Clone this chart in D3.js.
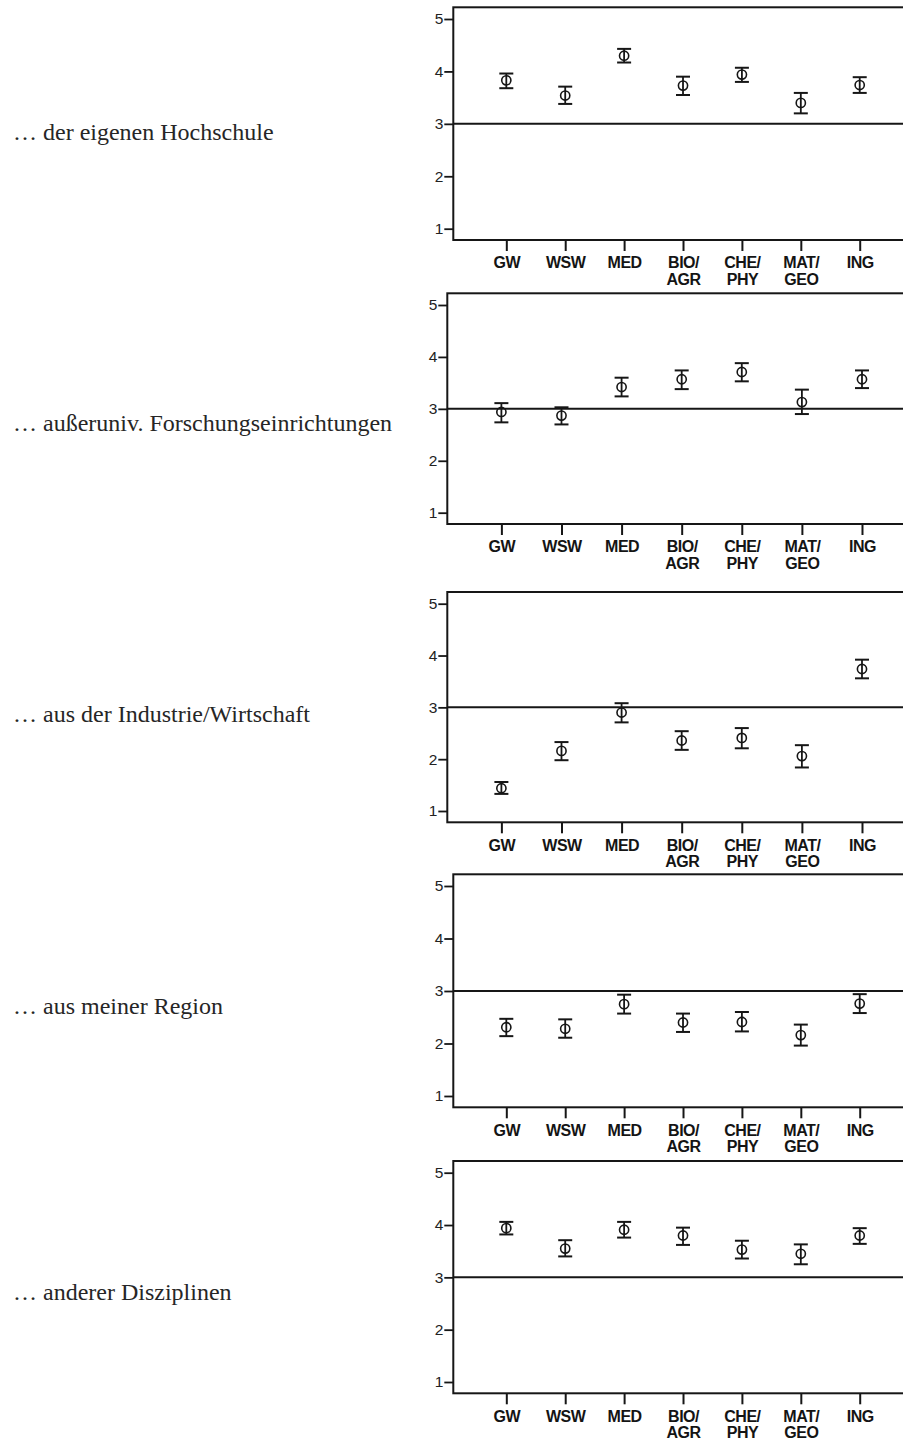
<!DOCTYPE html>
<html>
<head>
<meta charset="utf-8">
<script src="https://cdnjs.cloudflare.com/ajax/libs/d3/7.8.5/d3.min.js"></script>
<style>
  html, body { margin: 0; padding: 0; background: #ffffff; }
  svg { display: block; }
</style>
</head>
<body>
<svg id="chart" width="903" height="1438"></svg>
<script>
// ---- data ----
const categories = ["GW", "WSW", "MED", "BIO/AGR", "CHE/PHY", "MAT/GEO", "ING"];
const categoryLines = [["GW"], ["WSW"], ["MED"], ["BIO/", "AGR"], ["CHE/", "PHY"], ["MAT/", "GEO"], ["ING"]];
const yTicks = [1, 2, 3, 4, 5];
const referenceValue = 3;

const rowLabels = [
  "… der eigenen Hochschule",
  "… außeruniv. Forschungseinrichtungen",
  "… aus der Industrie/Wirtschaft",
  "… aus meiner Region",
  "… anderer Disziplinen"
];

const hochschuleMean = [3.83, 3.54, 4.30, 3.73, 3.94, 3.40, 3.74];
const hochschuleLow  = [3.68, 3.38, 4.17, 3.55, 3.80, 3.20, 3.59];
const hochschuleHigh = [3.96, 3.71, 4.43, 3.90, 4.07, 3.59, 3.89];

const forschungMean = [2.94, 2.87, 3.42, 3.57, 3.71, 3.13, 3.57];
const forschungLow  = [2.74, 2.70, 3.24, 3.38, 3.53, 2.90, 3.40];
const forschungHigh = [3.11, 3.03, 3.60, 3.74, 3.88, 3.37, 3.74];

const industrieMean = [1.44, 2.16, 2.90, 2.36, 2.41, 2.06, 3.74];
const industrieLow  = [1.33, 1.98, 2.71, 2.18, 2.21, 1.84, 3.56];
const industrieHigh = [1.56, 2.33, 3.08, 2.54, 2.60, 2.27, 3.92];

const regionMean = [2.31, 2.28, 2.75, 2.40, 2.41, 2.16, 2.76];
const regionLow  = [2.14, 2.11, 2.57, 2.22, 2.23, 1.96, 2.58];
const regionHigh = [2.47, 2.46, 2.93, 2.57, 2.60, 2.36, 2.94];

const disziplinenMean = [3.94, 3.55, 3.91, 3.80, 3.53, 3.45, 3.80];
const disziplinenLow  = [3.82, 3.40, 3.76, 3.62, 3.36, 3.25, 3.64];
const disziplinenHigh = [4.06, 3.71, 4.06, 3.95, 3.70, 3.63, 3.94];

const seriesMeans = [hochschuleMean, forschungMean, industrieMean, regionMean, disziplinenMean];
const seriesLows  = [hochschuleLow, forschungLow, industrieLow, regionLow, disziplinenLow];
const seriesHighs = [hochschuleHigh, forschungHigh, industrieHigh, regionHigh, disziplinenHigh];

// ---- layout (pixels) ----
const panelLayout = [
  { top: 7.3,   bottom: 240,    left: 453.3, step: 58.9, labelY: 140 },
  { top: 293.3, bottom: 524,    left: 447.3, step: 60.1, labelY: 430.7 },
  { top: 592,   bottom: 822.3,  left: 447.3, step: 60.1, labelY: 721.7 },
  { top: 874.3, bottom: 1107.3, left: 453.3, step: 58.9, labelY: 1014 },
  { top: 1161,  bottom: 1393.3, left: 453.3, step: 58.9, labelY: 1300 }
];
const labelX = 13;
const ink = "#161616";

const svg = d3.select("#chart");

panelLayout.forEach((L, i) => {
  const right = L.left + 7.8 * L.step;
  const x = d3.scalePoint().domain(categories).range([L.left, right]).padding(0.9);
  const y = d3.scaleLinear().domain([1, 5]).range([L.bottom - 11.3, L.top + 11.7]);

  const g = svg.append("g");

  // row label
  g.append("text")
    .attr("x", labelX)
    .attr("y", L.labelY)
    .attr("font-family", "'Liberation Serif', 'Times New Roman', serif")
    .attr("font-size", 24)
    .attr("fill", "#262626")
    .text(rowLabels[i]);

  // frame
  g.append("rect")
    .attr("x", L.left).attr("y", L.top)
    .attr("width", right - L.left).attr("height", L.bottom - L.top)
    .attr("fill", "none").attr("stroke", ink).attr("stroke-width", 2);

  // y axis
  const yAxis = d3.axisLeft(y).tickValues(yTicks).tickFormat(d3.format("d")).tickSize(9).tickPadding(1);
  const ya = g.append("g").attr("transform", `translate(${L.left},0)`).call(yAxis);
  ya.select(".domain").remove();
  ya.selectAll(".tick line").attr("stroke", ink).attr("stroke-width", 1.8);
  ya.selectAll(".tick text")
    .attr("font-family", "'Liberation Sans', Arial, sans-serif")
    .attr("font-size", 15.5).attr("fill", "#222");

  // x axis
  const xAxis = d3.axisBottom(x).tickSize(11).tickFormat(() => "");
  const xa = g.append("g").attr("transform", `translate(0,${L.bottom})`).call(xAxis);
  xa.select(".domain").remove();
  xa.selectAll(".tick line").attr("stroke", ink).attr("stroke-width", 2);
  xa.selectAll(".tick").each(function(d, j) {
    const t = d3.select(this).append("text")
      .attr("text-anchor", "middle")
      .attr("font-family", "'Liberation Sans', Arial, sans-serif")
      .attr("font-weight", "bold")
      .attr("font-size", 16)
      .attr("letter-spacing", "-0.5")
      .attr("fill", "#141414");
    categoryLines[j].forEach((ln, k) => {
      t.append("tspan").attr("x", 0).attr("y", 28.3 + k * 16.7).text(ln);
    });
  });

  // reference line
  g.append("line")
    .attr("x1", L.left).attr("x2", right)
    .attr("y1", y(referenceValue)).attr("y2", y(referenceValue))
    .attr("stroke", ink).attr("stroke-width", 2);

  // error bars
  const pts = categories.map((c, j) => ({ c, m: seriesMeans[i][j], lo: seriesLows[i][j], hi: seriesHighs[i][j] }));
  const eb = g.append("g").selectAll("g").data(pts).join("g");
  eb.append("line")
    .attr("x1", d => x(d.c)).attr("x2", d => x(d.c))
    .attr("y1", d => y(d.lo)).attr("y2", d => y(d.hi))
    .attr("stroke", ink).attr("stroke-width", 1.8);
  eb.append("line")
    .attr("x1", d => x(d.c) - 7).attr("x2", d => x(d.c) + 7)
    .attr("y1", d => y(d.hi)).attr("y2", d => y(d.hi))
    .attr("stroke", ink).attr("stroke-width", 2);
  eb.append("line")
    .attr("x1", d => x(d.c) - 7).attr("x2", d => x(d.c) + 7)
    .attr("y1", d => y(d.lo)).attr("y2", d => y(d.lo))
    .attr("stroke", ink).attr("stroke-width", 2);
  eb.append("circle")
    .attr("cx", d => x(d.c)).attr("cy", d => y(d.m))
    .attr("r", 4.6)
    .attr("fill", "none").attr("stroke", ink).attr("stroke-width", 1.6);
});
</script>
</body>
</html>
